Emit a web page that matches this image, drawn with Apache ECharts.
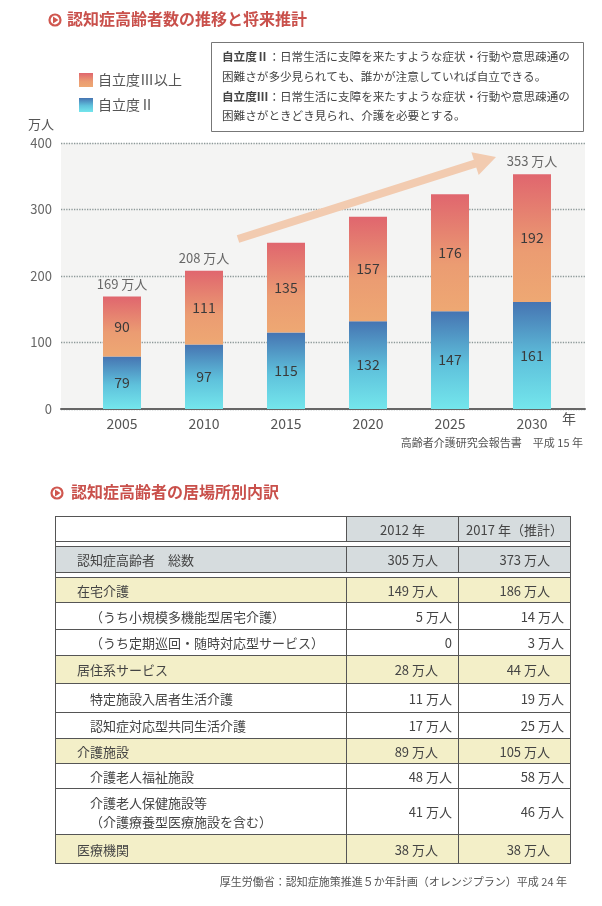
<!doctype html>
<html>
<head>
<meta charset="UTF-8">
<title>認知症高齢者数の推移と将来推計</title>
<script src="https://cdn.jsdelivr.net/npm/echarts/dist/echarts.min.js"></script>
<style>
  html, body { margin: 0; padding: 0; background: #fff; }
  #main { position: absolute; left: 0; top: 0; width: 602px; height: 906px; }
  #tbl {
    position: absolute; left: 55px; top: 516px; width: 515px;
    border-collapse: collapse; table-layout: fixed;
    font-family: "Noto Sans CJK JP", sans-serif; font-size: 13px; color: #444;
  }
  #tbl td { border: 1px solid #555; padding: 0; vertical-align: middle; white-space: nowrap; }
  #tbl td.lab { padding-left: 21px; text-align: left; }
  #tbl tr.sub td.lab { padding-left: 34px; }
  #tbl td.num { text-align: right; padding-right: 20px; }
  #tbl tr.sub td.num { padding-right: 6px; }
  #tbl tr.head td.num { text-align: center; padding-right: 0; }
  #tbl tr.head td, #tbl tr.total td { background: #d6dcde; }
  #tbl tr.head td.lab { background: #fff; }
  #tbl tr.cat td { background: #f3efc8; }
  #tbl tr.gap td { border-top: none; border-bottom: none; background: #fff; height: 4px; }
</style>
</head>
<body>
<div id="main"></div>
<table id="tbl"></table>
<script>
// 棒グラフのデータ
var years = ['2005', '2010', '2015', '2020', '2025', '2030'];
var level2 = [79, 97, 115, 132, 147, 161];
var level3 = [90, 111, 135, 157, 176, 192];
var totals = [169, 208, '-', '-', '-', 353];

// 表のデータ
var colHeads = ['2012 年', '2017 年（推計）'];
var rowLabels = ['認知症高齢者　総数', '在宅介護', '（うち小規模多機能型居宅介護）', '（うち定期巡回・随時対応型サービス）',
  '居住系サービス', '特定施設入居者生活介護', '認知症対応型共同生活介護', '介護施設', '介護老人福祉施設',
  '介護老人保健施設等<br>（介護療養型医療施設を含む）', '医療機関'];
var vals2012 = ['305 万人', '149 万人', '5 万人', '0', '28 万人', '11 万人', '17 万人', '89 万人', '48 万人', '41 万人', '38 万人'];
var vals2017 = ['373 万人', '186 万人', '14 万人', '3 万人', '44 万人', '19 万人', '25 万人', '105 万人', '58 万人', '46 万人', '38 万人'];
var rowKinds = ['total', 'cat', 'sub', 'sub', 'cat', 'sub', 'sub', 'cat', 'sub', 'sub', 'cat'];
var rowHeights = [26, 25, 27, 26, 28, 29, 26, 25, 25, 46, 29];

var FONT = '"Noto Sans CJK JP", sans-serif';

// 表を組み立てる
(function () {
  var html = '<colgroup><col style="width:291px"><col style="width:112px"><col style="width:112px"></colgroup>';
  html += '<tr class="head" style="height:25px"><td class="lab"></td><td class="num">' + colHeads[0] + '</td><td class="num">' + colHeads[1] + '</td></tr>';
  html += '<tr class="gap"><td colspan="3"></td></tr>';
  for (var i = 0; i < rowLabels.length; i++) {
    html += '<tr class="' + rowKinds[i] + '" style="height:' + rowHeights[i] + 'px"><td class="lab">' + rowLabels[i] +
      '</td><td class="num">' + vals2012[i] + '</td><td class="num">' + vals2017[i] + '</td></tr>';
    if (i === 0) html += '<tr class="gap"><td colspan="3"></td></tr>';
  }
  document.getElementById('tbl').innerHTML = html;
})();

function arrowPoints(tail, tip, shaftW, headW, headL) {
  var dx = tip[0] - tail[0], dy = tip[1] - tail[1];
  var len = Math.sqrt(dx * dx + dy * dy);
  var ux = dx / len, uy = dy / len, nx = -uy, ny = ux;
  var bx = tip[0] - ux * headL, by = tip[1] - uy * headL;
  return [
    [tail[0] + nx * shaftW / 2, tail[1] + ny * shaftW / 2],
    [bx + nx * shaftW / 2, by + ny * shaftW / 2],
    [bx + nx * headW / 2, by + ny * headW / 2],
    tip,
    [bx - nx * headW / 2, by - ny * headW / 2],
    [bx - nx * shaftW / 2, by - ny * shaftW / 2],
    [tail[0] - nx * shaftW / 2, tail[1] - ny * shaftW / 2]
  ];
}

function titleIcon(cx, cy) {
  return [
    { type: 'circle', shape: { cx: cx, cy: cy, r: 5.5 }, style: { fill: '#fff', stroke: '#d0574f', lineWidth: 2.2 } },
    { type: 'polygon', shape: { points: [[cx - 2, cy - 3.5], [cx + 3.5, cy], [cx - 2, cy + 3.5]] }, style: { fill: '#d0574f' } }
  ];
}

var redGrad = new echarts.graphic.LinearGradient(0, 0, 0, 1, [
  { offset: 0, color: '#e0666e' }, { offset: 0.6, color: '#eb9c72' }, { offset: 1, color: '#eea873' }
]);
var blueGrad = new echarts.graphic.LinearGradient(0, 0, 0, 1, [
  { offset: 0, color: '#4674b2' }, { offset: 0.55, color: '#5fc2dc' }, { offset: 1, color: '#74e6ec' }
]);

var chart = echarts.init(document.getElementById('main'));
var noteStyle = { fontSize: 11.6, fill: '#444', fontFamily: FONT,
  rich: { b: { fontSize: 11.6, fontWeight: 'bold', color: '#333', fontFamily: FONT } } };

var option = {
  animation: false,
  textStyle: { fontFamily: FONT },
  legend: {
    orient: 'vertical', left: 79, top: 73, padding: 0, itemWidth: 14, itemHeight: 14, itemGap: 11,
    icon: 'rect', data: ['自立度Ⅲ以上', '自立度Ⅱ'],
    textStyle: { fontSize: 14, color: '#555', fontFamily: FONT }
  },
  grid: [
    { left: 61, top: 143, width: 524, bottom: 497, show: true, backgroundColor: '#f4f4f3', borderWidth: 0 },
    { left: 81, top: 143, width: 492, bottom: 497 }
  ],
  xAxis: [
    { gridIndex: 0, type: 'value', min: 0, max: 1, axisLabel: { show: false }, axisTick: { show: false },
      splitLine: { show: false }, axisLine: { show: true, lineStyle: { color: '#666', width: 2 } } },
    { gridIndex: 1, type: 'category', data: years, axisLine: { show: false }, axisTick: { show: false },
      axisLabel: { fontSize: 14, color: '#555', margin: 8, fontFamily: FONT } }
  ],
  yAxis: [
    { gridIndex: 0, type: 'value', min: 0, max: 400, interval: 100,
      axisLine: { show: false }, axisTick: { show: false },
      axisLabel: { fontSize: 13, color: '#666', margin: 9, fontFamily: FONT },
      splitLine: { show: true, lineStyle: { type: 'dotted', color: '#8c9898', width: 1.3 } } },
    { gridIndex: 1, type: 'value', min: 0, max: 400, show: false }
  ],
  series: [
    { name: '自立度Ⅱ', type: 'bar', stack: 'all', xAxisIndex: 1, yAxisIndex: 1, barWidth: 38,
      data: level2, itemStyle: { color: blueGrad },
      label: { show: true, position: 'inside', fontSize: 14, color: '#3a3a3a', fontFamily: FONT } },
    { name: '自立度Ⅲ以上', type: 'bar', stack: 'all', xAxisIndex: 1, yAxisIndex: 1, barWidth: 38,
      data: level3, itemStyle: { color: redGrad },
      label: { show: true, position: 'inside', fontSize: 14, color: '#3a3a3a', fontFamily: FONT } },
    { name: '合計', type: 'scatter', xAxisIndex: 1, yAxisIndex: 1, symbolSize: 1,
      itemStyle: { color: 'rgba(0,0,0,0)' }, data: totals, silent: true,
      label: { show: true, position: 'top', distance: 6, fontSize: 13, color: '#444', fontFamily: FONT,
        formatter: function (p) { return p.value + ' 万人'; } } }
  ],
  graphic: [
    // 見出し
    { type: 'group', children: titleIcon(55, 20) },
    { type: 'text', left: 67, top: 11, style: { text: '認知症高齢者数の推移と将来推計', fontSize: 16, fontWeight: 'bold', fill: '#c9504b', fontFamily: FONT } },
    // 注釈ボックス
    { type: 'rect', shape: { x: 211.5, y: 42.5, width: 372, height: 89 }, style: { fill: '#fff', stroke: '#777', lineWidth: 1 } },
    { type: 'text', x: 222, y: 57, style: Object.assign({ text: '{b|自立度Ⅱ}：日常生活に支障を来たすような症状・行動や意思疎通の', verticalAlign: 'middle' }, noteStyle) },
    { type: 'text', x: 222, y: 77, style: Object.assign({ text: '困難さが多少見られても、誰かが注意していれば自立できる。', verticalAlign: 'middle' }, noteStyle) },
    { type: 'text', x: 222, y: 97, style: Object.assign({ text: '{b|自立度Ⅲ}：日常生活に支障を来たすような症状・行動や意思疎通の', verticalAlign: 'middle' }, noteStyle) },
    { type: 'text', x: 222, y: 116, style: Object.assign({ text: '困難さがときどき見られ、介護を必要とする。', verticalAlign: 'middle' }, noteStyle) },
    // 単位
    { type: 'text', x: 28, y: 124, style: { text: '万人', fontSize: 13, fill: '#555', verticalAlign: 'middle', fontFamily: FONT } },
    { type: 'text', x: 562, y: 419, style: { text: '年', fontSize: 14, fill: '#555', verticalAlign: 'middle', fontFamily: FONT } },
    // 増加の矢印
    { type: 'polygon', z: 1, shape: { points: arrowPoints([238, 239], [496, 157], 8, 24, 22) }, style: { fill: '#f2cbb0' } },
    // 出典
    { type: 'text', x: 583, y: 443, style: { text: '高齢者介護研究会報告書　平成 15 年', fontSize: 11, fill: '#555', align: 'right', verticalAlign: 'middle', fontFamily: FONT } },
    // 2つ目の見出し
    { type: 'group', children: titleIcon(57, 493) },
    { type: 'text', left: 71, top: 484, style: { text: '認知症高齢者の居場所別内訳', fontSize: 16, fontWeight: 'bold', fill: '#c9504b', fontFamily: FONT } },
    { type: 'text', x: 567, y: 882, style: { text: '厚生労働省：認知症施策推進５か年計画（オレンジプラン）平成 24 年', fontSize: 11, fill: '#555', align: 'right', verticalAlign: 'middle', fontFamily: FONT } }
  ]
};
chart.setOption(option);
</script>
</body>
</html>
